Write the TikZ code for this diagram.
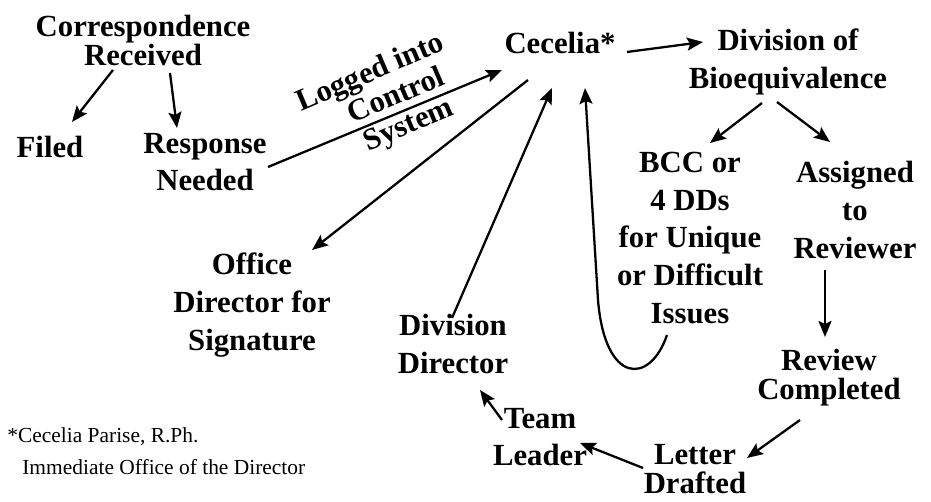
\documentclass[tikz,border=0pt]{standalone}
\usepackage{fontspec}
\setmainfont{Liberation Serif}
\usetikzlibrary{calc,arrows.meta}

\begin{document}
\begin{tikzpicture}[x=0.02cm, y=-0.02cm,
    lbl/.style={font=\bfseries\fontsize{17.5}{21.5}\selectfont, align=center, inner sep=1pt},
    tight/.style={lbl, font=\bfseries\fontsize{17.5}{16.5}\selectfont},
    arr/.style={-{Stealth[length=3.2mm,width=2.6mm,inset=0.6mm]}, line width=1.3pt}]
    \useasboundingbox (0,0) rectangle (931,502);
    % Incoming mail
    \node[tight] (corr) at (143,40) {Correspondence\\Received};
    \node[lbl] (filed) at (50,147) {Filed};
    \node[lbl] (resp) at (205,162) {Response\\Needed};
    \node[lbl, font=\bfseries\fontsize{17.5}{18}\selectfont, rotate=23] (logged) at (397,97) {Logged into\hspace*{0.6cm}\\Control\\System};
    % Cecelia and the division
    \node[lbl] (cec) at (560,43) {Cecelia*};
    \node[lbl] (div) at (788,62) {Division of\\Bioequivalence};
    \node[lbl] (bcc) at (690,238) {BCC or\\4 DDs\\for Unique\\or Difficult\\Issues};
    \node[lbl] (assig) at (855,210) {Assigned\\to\\Reviewer};
    \node[tight] (review) at (829,378) {Review\\Completed};
    \node[tight] (letter) at (695,469) {Letter\\Drafted};
    \node[lbl] (team) at (540,437) {Team\\Leader};
    \node[lbl] (divdir) at (453,344) {Division\\Director};
    \node[lbl] (office) at (252,305) {Office\\Director for\\Signature};
    % Footnote
    \node[anchor=base west, font=\fontsize{12.2}{14}\selectfont, inner sep=0pt] (note) at (7,443) {*Cecelia Parise, R.Ph.};
    \node[anchor=base west, font=\fontsize{12.2}{14}\selectfont, inner sep=0pt] (note2) at (22,475) {Immediate Office of the Director};
    % Arrows
    \draw[arr] ($(corr)+(-30,30)$) -- ($(filed)+(22,-25)$);
    \draw[arr] ($(corr)+(27,33)$) -- ($(resp)+(-28,-34)$);
    \draw[arr] ($(resp)+(63,5)$) -- ($(cec)+(-58,27)$);
    \draw[arr] ($(cec)+(-32,37)$) -- ($(office)+(60,-55)$);
    \draw[arr] ($(divdir)+(-1,-26)$) -- ($(cec)+(-8,45)$);
    \draw[arr] ($(bcc)+(-23,97)$) .. controls ($(bcc)+(-40,147)$) and ($(bcc)+(-85,147)$) .. ($(bcc)+(-92,62)$) -- ($(cec)+(25,45)$);
    \draw[arr] ($(cec)+(67,9)$) -- ($(div)+(-85,-20)$);
    \draw[arr] ($(div)+(-26,41)$) -- ($(bcc)+(20,-95)$);
    \draw[arr] ($(div)+(-11,40)$) -- ($(assig)+(-25,-68)$);
    \draw[arr] ($(assig)+(-30,60)$) -- ($(review)+(-4,-41)$);
    \draw[arr] ($(review)+(-29,42)$) -- ($(letter)+(52,-11)$);
    \draw[arr] ($(letter)+(-52,-1)$) -- ($(team)+(40,6)$);
    \draw[arr] ($(team)+(-38,-17)$) -- ($(divdir)+(27,46)$);
\end{tikzpicture}
\end{document}
